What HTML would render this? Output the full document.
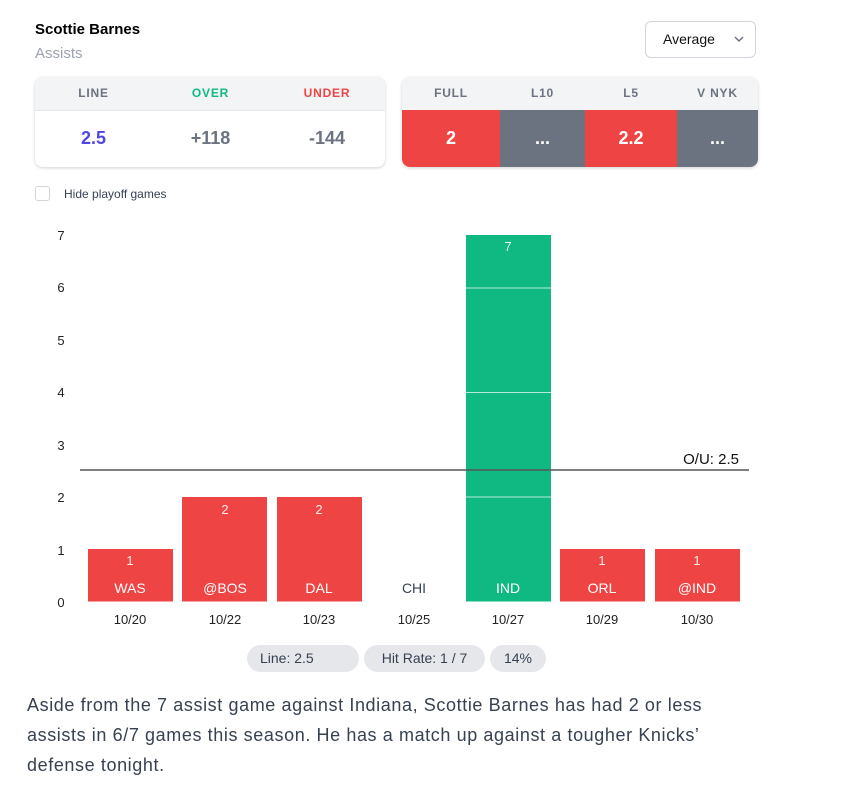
<!DOCTYPE html>
<html><head><meta charset="utf-8"><style>
body{margin:0;width:852px;height:803px;background:#fff;font-family:"Liberation Sans",sans-serif;position:relative;overflow:hidden}
.a{position:absolute}
.box{position:absolute;top:77px;height:90px;border-radius:8px;box-shadow:0 1px 3px rgba(0,0,0,.18);overflow:hidden;background:#fff}
.hd{position:absolute;top:0;height:33px;line-height:33px;text-align:center;font-size:12px;font-weight:bold;letter-spacing:.8px;color:#6b7280}
.vl{position:absolute;top:33px;height:57px;line-height:57px;text-align:center;font-size:18px;font-weight:bold}
.pill{position:absolute;top:645px;height:27px;line-height:27px;background:#e5e7eb;border-radius:14px;font-size:14px;color:#374151}
</style></head><body>
<div class="a" style="left:35px;top:21px;font-size:15px;font-weight:bold;color:#000">Scottie Barnes</div>
<div class="a" style="left:35px;top:45px;font-size:15px;color:#9ca3af">Assists</div>
<div class="a" style="left:645px;top:21px;width:111px;height:37px;border:1px solid #d1d5db;border-radius:6px;box-sizing:border-box;font-size:14px;color:#111;line-height:35px;padding-left:17px">Average<svg style="position:absolute;left:88px;top:14px" width="10" height="7"><path d="M1 1l4 4 4-4" stroke="#6b7280" stroke-width="1.5" fill="none"/></svg></div>

<div class="box" style="left:35px;width:350px">
<div class="a" style="left:0;top:0;width:350px;height:33px;background:#f3f4f6;border-bottom:1px solid #e5e7eb"></div>
<div class="hd" style="left:0;width:117px">LINE</div>
<div class="hd" style="left:117px;width:117px;color:#10b981">OVER</div>
<div class="hd" style="left:234px;width:116px;color:#ef4444">UNDER</div>
<div class="vl" style="left:0;width:117px;color:#4f46e5">2.5</div>
<div class="vl" style="left:117px;width:117px;color:#6b7280">+118</div>
<div class="vl" style="left:234px;width:116px;color:#6b7280">-144</div>
</div>

<div class="box" style="left:402px;width:356px">
<div class="a" style="left:0;top:0;width:356px;height:33px;background:#f3f4f6"></div>
<div class="hd" style="left:0;width:98px">FULL</div>
<div class="hd" style="left:98px;width:85px">L10</div>
<div class="hd" style="left:183px;width:92px">L5</div>
<div class="hd" style="left:275px;width:81px">V NYK</div>
<div class="vl" style="left:0;width:98px;background:#ef4444;color:#fff">2</div>
<div class="vl" style="left:98px;width:85px;background:#6b7280;color:#fff">...</div>
<div class="vl" style="left:183px;width:92px;background:#ef4444;color:#fff">2.2</div>
<div class="vl" style="left:275px;width:81px;background:#6b7280;color:#fff">...</div>
</div>

<div class="a" style="left:35px;top:186px;width:15px;height:15px;border:1px solid #d1d5db;border-radius:3px;box-sizing:border-box"></div>
<div class="a" style="left:64px;top:187px;font-size:12px;color:#374151">Hide playoff games</div>

<svg class="a" style="left:0;top:0" width="852" height="803" font-family="Liberation Sans,sans-serif">
<g font-size="13" fill="#222" text-anchor="middle">
<text x="61" y="607">0</text><text x="61" y="555">1</text><text x="61" y="502">2</text><text x="61" y="450">3</text><text x="61" y="397">4</text><text x="61" y="345">5</text><text x="61" y="292">6</text><text x="61" y="240">7</text>
</g>
<g fill="#ef4444">
<rect x="88" y="549" width="85" height="52.5"/>
<rect x="182" y="497" width="85" height="104.5"/>
<rect x="277" y="497" width="85" height="104.5"/>
<rect x="560" y="549" width="85" height="52.5"/>
<rect x="655" y="549" width="85" height="52.5"/>
</g>
<rect x="466" y="235" width="85" height="366.5" fill="#10b981"/>
<g stroke="#fff" stroke-opacity=".7" stroke-width="1"><line x1="466" x2="551" y1="288" y2="288"/><line x1="466" x2="551" y1="392.5" y2="392.5"/><line x1="466" x2="551" y1="497" y2="497"/></g>
<line x1="80" x2="749" y1="470" y2="470" stroke="#555" stroke-width="1.5"/>
<text x="739" y="464" font-size="15" fill="#111" text-anchor="end">O/U: 2.5</text>
<g font-size="13" fill="#fff" fill-opacity=".9" text-anchor="middle">
<text x="130" y="565">1</text><text x="225" y="514">2</text><text x="319" y="514">2</text><text x="508" y="251">7</text><text x="602" y="565">1</text><text x="697" y="565">1</text>
</g>
<g font-size="14" fill="#fff" text-anchor="middle">
<text x="130" y="593">WAS</text><text x="225" y="593">@BOS</text><text x="319" y="593">DAL</text><text x="414" y="593" fill="#374151">CHI</text><text x="508" y="593">IND</text><text x="602" y="593">ORL</text><text x="697" y="593">@IND</text>
</g>
<g font-size="13" fill="#222" text-anchor="middle">
<text x="130" y="624">10/20</text><text x="225" y="624">10/22</text><text x="319" y="624">10/23</text><text x="414" y="624">10/25</text><text x="508" y="624">10/27</text><text x="602" y="624">10/29</text><text x="697" y="624">10/30</text>
</g>
</svg>

<div class="pill" style="left:247px;width:112px;padding-left:13px;box-sizing:border-box">Line: 2.5</div>
<div class="pill" style="left:364px;width:121px;text-align:center">Hit Rate: 1 / 7</div>
<div class="pill" style="left:490px;width:56px;text-align:center">14%</div>

<div class="a" style="left:27px;top:690px;width:800px;font-size:18px;line-height:30px;color:#374151;white-space:nowrap;letter-spacing:0.6px">Aside from the 7 assist game against Indiana, Scottie Barnes has had 2 or less<br>assists in 6/7 games this season. He has a match up against a tougher Knicks’<br>defense tonight.</div>
</body></html>
